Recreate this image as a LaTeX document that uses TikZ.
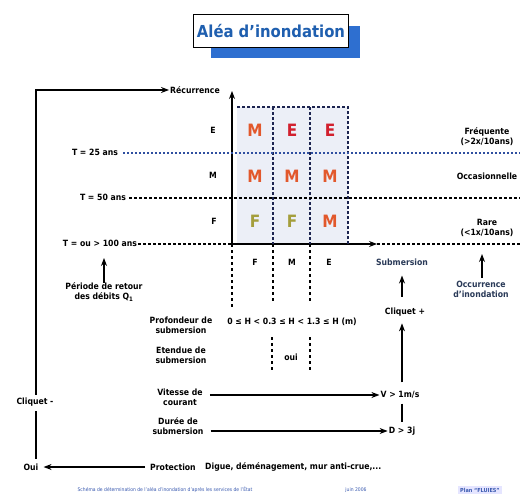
\documentclass[tikz,border=0pt]{standalone}
\usepackage{fontspec}
\setmainfont{DejaVu Sans Condensed}[BoldFont={DejaVu Sans Condensed Bold}]
\usetikzlibrary{arrows.meta,calc}
\definecolor{titleblue}{HTML}{1F5FAF}
\definecolor{shadowblue}{HTML}{2E6FD0}
\definecolor{gridnavy}{HTML}{1C2450}
\definecolor{dotblue}{HTML}{2F4FA0}
\definecolor{cellfill}{HTML}{ECEFF7}
\definecolor{orM}{HTML}{E2582C}
\definecolor{redE}{HTML}{D2202E}
\definecolor{olF}{HTML}{A49E3C}
\definecolor{slate}{HTML}{2A3A58}
\definecolor{footblue}{HTML}{3A5AB0}
\tikzset{
  lbl/.style={font=\bfseries\fontsize{8.6}{10}\selectfont, align=center, inner sep=1pt},
  big/.style={font=\bfseries\fontsize{17}{17}\selectfont, inner sep=0pt},
  arr/.style={-{Stealth[length=8pt,width=6pt]}, line width=1.1pt},
  plain/.style={line width=1.1pt},
  griddash/.style={gridnavy, line width=1.3pt, dash pattern=on 3pt off 2pt},
  blkdash/.style={black, line width=1.1pt, dash pattern=on 3pt off 2pt},
  bluedot/.style={dotblue, line width=1.3pt, dash pattern=on 1.5pt off 2.5pt},
  vdash/.style={black, line width=1.3pt, dash pattern=on 3pt off 3pt},
}
\begin{document}
\begin{tikzpicture}[x=1pt,y=1pt]
\useasboundingbox (0,0) rectangle (520,-498);
\fill[white] (0,0) rectangle (520,-498);
% title
\fill[shadowblue] (211,-26) rectangle (360,-58);
\node[draw=black, line width=1.2pt, fill=white, minimum width=148pt, minimum height=33pt,
  font=\bfseries\fontsize{16.5}{16.5}\selectfont, text=titleblue] (title) at (271,-31) {Aléa d’inondation};
% grid fill
\fill[cellfill] (237,-107) rectangle (348,-244);
% axes
\coordinate (O) at (232,-244);
\coordinate (ytop) at (232,-91);
\coordinate (xend) at (377,-244);
\coordinate (rend) at (520,0);
\draw[arr] (O) -- (ytop);
\draw[arr] (O) -- (xend);
% grid lines
\draw[griddash] (237,-107) -- (348,-107) -- (348,-244);
\draw[griddash] (273,-107) -- (273,-244);
\draw[griddash] (310,-107) -- (310,-244);
% left labels
\node[lbl] (rec) at (195,-90) {Récurrence};
\node[lbl] (t25) at (95,-152) {T = 25 ans};
\node[lbl] (t50) at (103,-197) {T = 50 ans};
\node[lbl] (t100) at (100,-243) {T = ou > 100 ans};
\draw[bluedot] (t25.east |- 0,-153) ++(4,0) -- (rend |- 0,-153);
\draw[blkdash] (t50.east |- 0,-198) ++(2,0) -- (rend |- 0,-198);
\draw[blkdash] (t100.east |- O) -- (O);
\draw[blkdash] (xend) -- (rend |- O);
\node[lbl] (rE) at (213,-130) {E};
\node[lbl] (rM) at (213,-175) {M};
\node[lbl] (rF) at (214,-221) {F};
% matrix letters
\node[big, text=orM]  (c11) at (255,-130) {M};
\node[big, text=redE] (c12) at (292,-130) {E};
\node[big, text=redE] (c13) at (330,-130) {E};
\node[big, text=orM]  (c21) at (255,-176) {M};
\node[big, text=orM]  (c22) at (292,-176) {M};
\node[big, text=orM]  (c23) at (330,-176) {M};
\node[big, text=olF]  (c31) at (255,-221) {F};
\node[big, text=olF]  (c32) at (292,-221) {F};
\node[big, text=orM]  (c33) at (330,-221) {M};
% right labels
\node[lbl] (freq) at (487,-137) {Fréquente\\(>2x/10ans)};
\node[lbl] (occas) at (487,-176) {Occasionnelle};
\node[lbl] (rare) at (487,-228) {Rare\\(<1x/10ans)};
% below axis
\draw[vdash] (O) -- (232,-307);
\draw[vdash] (273,-244) -- (273,-302);
\draw[vdash] (310,-244) -- (310,-302);
\node[lbl] (bF) at (255,-262) {F};
\node[lbl] (bM) at (292,-262) {M};
\node[lbl] (bE) at (329,-262) {E};
\node[lbl] (hrow) at (292,-322) {0 ≤ H < 0.3 ≤ H < 1.3 ≤ H (m)};
\node[lbl] (oui2) at (291,-357) {oui};
\draw[vdash] (272,-337) -- (272,-370);
\draw[vdash] (310,-337) -- (310,-370);
\node[lbl] (prof) at (181,-325) {Profondeur de\\submersion};
\node[lbl] (eten) at (181,-355) {Etendue de\\submersion};
% period
\node[lbl] (per) at (104,-292) {Période de retour\\des débits Q\textsubscript{1}};
\coordinate (pertip) at (104,-258);
\draw[arr] (per.north) ++(0,-1) -- (pertip);
% occurrence
\node[lbl, text=slate] (occ) at (481,-289) {Occurrence\\d’inondation};
\coordinate (occtip) at (482,-254);
\draw[arr] (occ.north -| occtip) ++(0,2) -- (occtip);
% right column
\node[lbl, text=slate] (subm) at (402,-262) {Submersion};
\node[lbl] (cliqp) at (405,-312) {Cliquet +};
\node[lbl] (vv) at (400,-395) {V > 1m/s};
\node[lbl] (dd) at (402,-431) {D > 3j};
\draw[arr, shorten <=10pt, shorten >=9pt] (cliqp.north -| 402,0) -- (subm.south -| 402,0);
\draw[arr, shorten <=8pt, shorten >=6pt] (vv.north -| 402,0) -- (cliqp.south -| 402,0);
\draw[plain, shorten <=4pt, shorten >=4pt] (vv.south -| 402,0) -- (dd.north -| 402,0);
% vitesse / duree
\node[lbl] (vit) at (180,-397) {Vitesse de\\courant};
\node[lbl] (dur) at (178,-426) {Durée de\\submersion};
\draw[arr, shorten <=6pt] (vit.east |- vv.west) -- (vv.west);
\draw[arr, shorten <=6pt] (dur.east |- dd.west) -- (dd.west);
% protection
\node[lbl] (prot) at (173,-467) {Protection};
\node[lbl, anchor=west] (digue) at (204,-467) {Digue, déménagement, mur anti-crue,...};
\node[lbl] (oui) at (31,-467) {Oui};
\node[lbl] (cliqm) at (35,-402) {Cliquet -};
\draw[arr, shorten <=4pt, shorten >=4pt] (prot.west) -- (oui.east);
\draw[plain, shorten <=4pt, shorten >=3pt] (cliqm.south -| 36,0) -- (oui.north -| 36,0);
\draw[arr] (cliqm.north -| 36,0) ++(0,2) |- (rec.west);
% footer
\node[font=\fontsize{5}{6}\selectfont, text=footblue, inner sep=0pt] (foot1) at (165,-490) {Schéma de détermination de l’aléa d’inondation d’après les services de l’État};
\node[font=\fontsize{5}{6}\selectfont, text=footblue, inner sep=0pt] (foot2) at (356,-490) {juin 2006};
\node[font=\bfseries\fontsize{5.5}{6}\selectfont, text=footblue, fill=blue!10, inner sep=2pt, anchor=west] (foot3) at (458,-490) {Plan “FLUIES”};
\end{tikzpicture}
\end{document}
